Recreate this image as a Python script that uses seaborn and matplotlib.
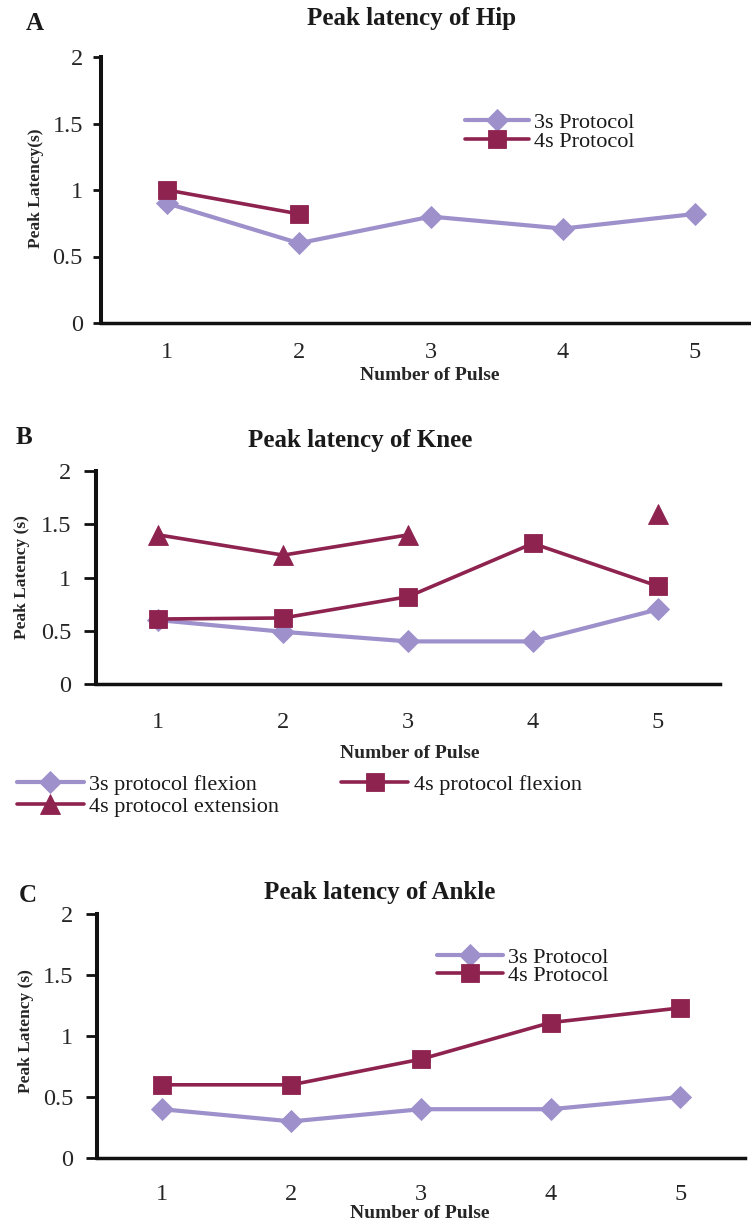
import numpy as np
import pandas as pd
import matplotlib
matplotlib.use("Agg")
import matplotlib.pyplot as plt
import seaborn as sns

# ---------------- data ----------------
pulses = [1, 2, 3, 4, 5]
hip_3s = [0.90, 0.60, 0.80, 0.71, 0.82]
hip_4s = [1.00, 0.82, np.nan, np.nan, np.nan]
knee_3s_flexion = [0.60, 0.49, 0.40, 0.40, 0.70]
knee_4s_flexion = [0.61, 0.62, 0.82, 1.32, 0.92]
knee_4s_extension = [1.40, 1.21, 1.40, np.nan, 1.60]
ankle_3s = [0.40, 0.30, 0.40, 0.40, 0.50]
ankle_4s = [0.60, 0.60, 0.81, 1.11, 1.23]
y_ticks = [0, 0.5, 1, 1.5, 2]
y_tick_labels = ["0", "0.5", "1", "1.5", "2"]
x_tick_labels = ["1", "2", "3", "4", "5"]

titles = ["Peak latency of Hip", "Peak latency of Knee", "Peak latency of Ankle"]
panel_letters = ["A", "B", "C"]
y_labels = ["Peak Latency(s)", "Peak Latency (s)", "Peak Latency (s)"]
x_label = "Number of Pulse"

LAV = "#9D90CB"
MAR = "#8E2350"

sns.set_theme(style="white")
plt.rcParams["font.family"] = ["Liberation Serif", "DejaVu Serif"]
plt.rcParams["text.color"] = "#1a1a1a"

W, H = 751, 1222
fig = plt.figure(figsize=(W / 100, H / 100), dpi=100)


def fx(px):
    return px / W


def fy(py):
    return 1 - py / H


def axes_px(left, right, top, bottom):
    return fig.add_axes([fx(left), fy(bottom), (right - left) / W, (bottom - top) / H])


def to_frame(values):
    df = pd.DataFrame({"pulse": pulses, "latency": values})
    df["segment"] = df["latency"].isna().cumsum()
    return df.dropna()


def draw(ax, values, color, marker, ms, lw, label):
    df = to_frame(values)
    sns.lineplot(data=df, x="pulse", y="latency", units="segment", estimator=None,
                 color=color, marker=marker, markersize=ms, markeredgewidth=0.6,
                 markeredgecolor=color, linewidth=lw, ax=ax, label=label)


def style_axes(ax, xpad):
    ax.set_xlim(0.5, 5.5)
    ax.set_ylim(0, 2)
    ax.set_xticks(pulses)
    ax.set_xticklabels(x_tick_labels)
    ax.set_yticks(y_ticks)
    ax.set_yticklabels(y_tick_labels)
    for s in ["top", "right"]:
        ax.spines[s].set_visible(False)
    for s in ["left", "bottom"]:
        ax.spines[s].set_color("#111111")
    ax.spines["left"].set_linewidth(2.9)
    ax.spines["bottom"].set_linewidth(2.5)
    ax.tick_params(axis="y", length=6, width=2, color="#111111", pad=7,
                   labelsize=17.5, left=True, direction="out")
    ax.tick_params(axis="x", length=0, pad=xpad, labelsize=17.5)
    ax.set_facecolor("white")
    ax.grid(False)


def set_labels(ax, title, title_xy, letter, letter_xy, ylab, ylab_xy, xlab_xy):
    fig.text(fx(title_xy[0]), fy(title_xy[1]), title, ha="center", va="center",
             fontsize=18, fontweight="bold")
    fig.text(fx(letter_xy[0]), fy(letter_xy[1]), letter, ha="center", va="center",
             fontsize=18, fontweight="bold")
    ax.set_ylabel(ylab, fontsize=12.5, fontweight="bold")
    ax.yaxis.set_label_coords(fx(ylab_xy[0]), fy(ylab_xy[1]), transform=fig.transFigure)
    ax.yaxis.label.set_va("center")
    ax.set_xlabel(x_label, fontsize=14, fontweight="bold")
    ax.xaxis.set_label_coords(fx(xlab_xy[0]), fy(xlab_xy[1]), transform=fig.transFigure)
    ax.xaxis.label.set_va("center")


def place_legend(ax, x_px, top_px, hl, tp, ls, ncol=1, cs=2.0, fs=16):
    handles, labels = ax.get_legend_handles_labels()
    seen = {}
    for h, l in zip(handles, labels):
        if l not in seen:
            seen[l] = h
    order = list(seen.keys())
    ax.legend([seen[l] for l in order], order, loc="upper left",
              bbox_to_anchor=(fx(x_px), fy(top_px)), bbox_transform=fig.transFigure,
              frameon=False, fontsize=fs, borderpad=0, borderaxespad=0,
              handlelength=hl, handletextpad=tp, labelspacing=ls, ncol=ncol,
              columnspacing=cs, numpoints=1)


# ---------------- Panel A ----------------
axA = axes_px(101, 761, 57, 323)
draw(axA, hip_3s, LAV, "D", 11, 3.0, "3s Protocol")
draw(axA, hip_4s, MAR, "s", 13.5, 2.6, "4s Protocol")
style_axes(axA, xpad=14)
set_labels(axA, titles[0], (412, 18), panel_letters[0], (35, 24),
           y_labels[0], (36, 188), (430, 375))
place_legend(axA, 465, 112, 2.9, 0.22, -0.05)

# ---------------- Panel B ----------------
axB = axes_px(96, 720, 471, 684)
draw(axB, knee_3s_flexion, LAV, "D", 11, 3.0, "3s protocol flexion")
draw(axB, knee_4s_extension, MAR, "^", 15, 2.6, "4s protocol extension")
draw(axB, knee_4s_flexion, MAR, "s", 13.5, 2.6, "4s protocol flexion")
style_axes(axB, xpad=20)
axB.tick_params(axis="y", length=9, pad=9)
set_labels(axB, titles[1], (360, 440), panel_letters[1], (24, 438),
           y_labels[1], (22, 577), (410, 753))
place_legend(axB, 17, 774, 3.0, 0.25, 0.08, ncol=2, cs=2.8)

# ---------------- Panel C ----------------
axC = axes_px(97, 745, 914, 1158)
draw(axC, ankle_3s, LAV, "D", 11, 3.0, "3s Protocol")
draw(axC, ankle_4s, MAR, "s", 13.5, 2.6, "4s Protocol")
style_axes(axC, xpad=19)
axC.tick_params(axis="y", length=8, pad=9)
set_labels(axC, titles[2], (380, 893), panel_letters[2], (28, 895),
           y_labels[2], (26, 1031), (420, 1213))
place_legend(axC, 437, 947, 2.95, 0.25, -0.1)

fig.savefig("out.png", dpi=100, facecolor="white")
